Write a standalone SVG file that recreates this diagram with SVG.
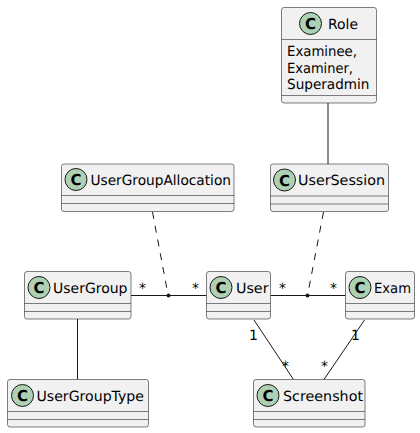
<svg xmlns="http://www.w3.org/2000/svg" width="420" height="433" viewBox="0 0 420 433" text-rendering="geometricPrecision">
<style>
.box{fill:#F1F1F1;stroke:#181818;stroke-opacity:.55;stroke-width:1}
.sep{stroke:#181818;stroke-opacity:.55;stroke-width:1;fill:none}
.spot{fill:#ADD1B2;stroke:#181818;stroke-width:1}
.c{font:bold 15px "DejaVu Sans",sans-serif;fill:#000;text-anchor:middle}
.t{font:14px "DejaVu Sans",sans-serif;fill:#000}
.m{font:14px "DejaVu Sans",sans-serif;fill:#000}
.l{stroke:#181818;stroke-width:1;fill:none}
.d{stroke:#181818;stroke-width:1;fill:none;stroke-dasharray:7 7}
</style>
<rect width="420" height="433" fill="#fff"/>
<g id="connectors">
<line class="l" x1="328" y1="103" x2="328" y2="164"/>
<line class="l" x1="77.5" y1="319" x2="77.5" y2="379.5"/>
<line class="l" x1="131" y1="295.5" x2="206.5" y2="295.5"/>
<line class="l" x1="270.5" y1="295.5" x2="345.5" y2="295.5"/>
<line class="l" x1="254" y1="320" x2="293.5" y2="379.5"/>
<line class="l" x1="364.5" y1="320" x2="324" y2="379.5"/>
<line class="d" x1="152.5" y1="212" x2="167.5" y2="292"/>
<line class="d" x1="323.5" y1="212" x2="308" y2="293"/>
<circle cx="168.5" cy="295.5" r="2" fill="#181818"/>
<circle cx="307.5" cy="295.5" r="2" fill="#181818"/>
<text class="m" x="139" y="293">*</text>
<text class="m" x="192" y="293">*</text>
<text class="m" x="279" y="293">*</text>
<text class="m" x="330" y="293">*</text>
<text class="m" x="249" y="340">1</text>
<text class="m" x="351" y="340">1</text>
<text class="m" x="282" y="370.5">*</text>
<text class="m" x="321" y="370.5">*</text>
</g>
<g id="Role">
<rect class="box" x="281.5" y="7.5" width="95" height="95.5" rx="2.5"/>
<path class="sep" d="M281.5 39.5H376.5M281.5 95.5H376.5"/>
<circle class="spot" cx="310.5" cy="23.5" r="11"/><text class="c" x="310.5" y="29">C</text>
<text class="t" x="328" y="28.5" textLength="30" lengthAdjust="spacingAndGlyphs">Role</text>
<text class="t" x="287" y="56" textLength="70" lengthAdjust="spacingAndGlyphs">Examinee,</text>
<text class="t" x="287" y="72.5" textLength="66" lengthAdjust="spacingAndGlyphs">Examiner,</text>
<text class="t" x="287" y="89" textLength="82.5" lengthAdjust="spacingAndGlyphs">Superadmin</text>
</g>
<g id="UserSession">
<rect class="box" x="270.5" y="164" width="118" height="47.5" rx="2.5"/>
<path class="sep" d="M270.5 196H388.5M270.5 204H388.5"/>
<circle class="spot" cx="284.5" cy="180" r="11"/><text class="c" x="284.5" y="185.5">C</text>
<text class="t" x="298" y="185" textLength="87" lengthAdjust="spacingAndGlyphs">UserSession</text>
</g>
<g id="UserGroupAllocation">
<rect class="box" x="61.5" y="164" width="172.5" height="47.5" rx="2.5"/>
<path class="sep" d="M61.5 195.5H234M61.5 203.5H234"/>
<circle class="spot" cx="76" cy="179.5" r="11"/><text class="c" x="76" y="185">C</text>
<text class="t" x="90.5" y="185" textLength="140.5" lengthAdjust="spacingAndGlyphs">UserGroupAllocation</text>
</g>
<g id="UserGroup">
<rect class="box" x="24.5" y="271.5" width="106.5" height="47.5" rx="2.5"/>
<path class="sep" d="M24.5 303.5H131M24.5 311.5H131"/>
<circle class="spot" cx="39" cy="287.5" r="11"/><text class="c" x="39" y="293">C</text>
<text class="t" x="53" y="292.5" textLength="74.5" lengthAdjust="spacingAndGlyphs">UserGroup</text>
</g>
<g id="User">
<rect class="box" x="206.5" y="271.5" width="64" height="47.5" rx="2.5"/>
<path class="sep" d="M206.5 303.5H270.5M206.5 311.5H270.5"/>
<circle class="spot" cx="221" cy="287.5" r="11"/><text class="c" x="221" y="293">C</text>
<text class="t" x="236" y="292.5" textLength="32.5" lengthAdjust="spacingAndGlyphs">User</text>
</g>
<g id="Exam">
<rect class="box" x="345.5" y="271.5" width="69" height="47.5" rx="2.5"/>
<path class="sep" d="M345.5 303.5H414.5M345.5 311.5H414.5"/>
<circle class="spot" cx="360" cy="287.5" r="11"/><text class="c" x="360" y="293">C</text>
<text class="t" x="374" y="292.5" textLength="37" lengthAdjust="spacingAndGlyphs">Exam</text>
</g>
<g id="Screenshot">
<rect class="box" x="253.5" y="379.5" width="111.5" height="47.5" rx="2.5"/>
<path class="sep" d="M253.5 411.5H365M253.5 419.5H365"/>
<circle class="spot" cx="268" cy="395.5" r="11"/><text class="c" x="268" y="401">C</text>
<text class="t" x="283" y="400.5" textLength="80" lengthAdjust="spacingAndGlyphs">Screenshot</text>
</g>
<g id="UserGroupType">
<rect class="box" x="7.5" y="379.5" width="141" height="47.5" rx="2.5"/>
<path class="sep" d="M7.5 411.5H148.5M7.5 419.5H148.5"/>
<circle class="spot" cx="22.5" cy="395.5" r="11"/><text class="c" x="22.5" y="401">C</text>
<text class="t" x="36.5" y="400.5" textLength="107.5" lengthAdjust="spacingAndGlyphs">UserGroupType</text>
</g>
</svg>
